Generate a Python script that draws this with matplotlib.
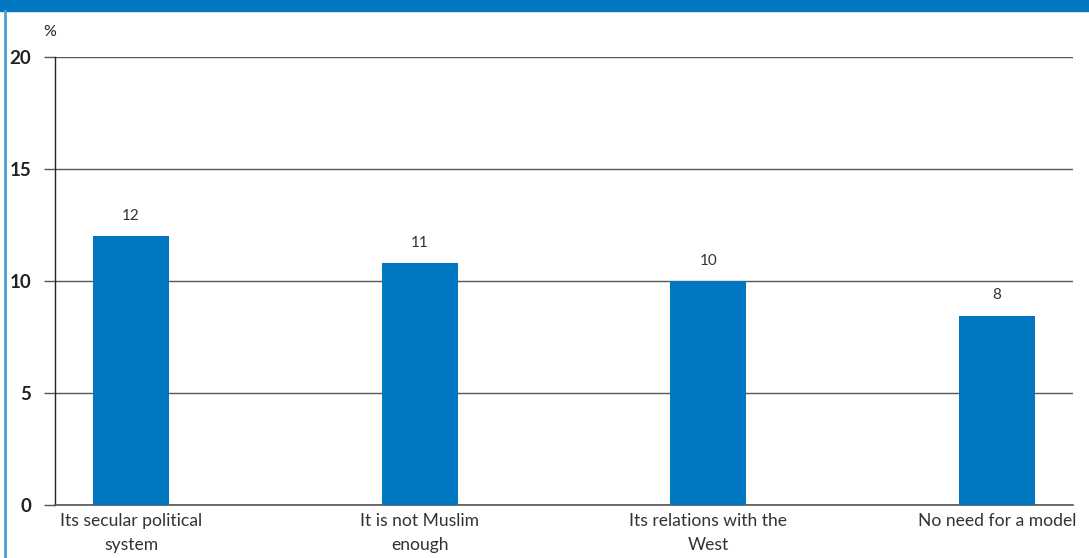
import matplotlib.pyplot as plt
import matplotlib.patches as mpatches
from matplotlib.lines import Line2D

categories = ["Its secular political\nsystem", "It is not Muslim\nenough",
              "Its relations with the\nWest", "No need for a model"]
values = [12.0, 10.8, 10.0, 8.45]
yticks = [0, 5, 10, 15, 20]

blue = "#0077C0"
grid_col = "#555555"
text_col = "#333333"

fig = plt.figure(figsize=(10.89, 5.58), dpi=100)
ax = fig.add_axes([55 / 1089, 53 / 558, 1018 / 1089, 448 / 558])

x = range(len(categories))
bars = ax.bar(x, values, width=0.263, color=blue, zorder=3)
for b, v in zip(bars, values):
    ax.text(b.get_x() + b.get_width() / 2, v + 0.6, f"{v:.0f}",
            ha="center", va="bottom", fontsize=11, color=text_col,
            family="Lato")

ax.set_xlim(-0.263, 3.263)
ax.set_ylim(0, 20)
ax.set_yticks(yticks)
ax.set_yticklabels([str(t) for t in yticks], fontsize=13.5, fontweight="bold",
                   family="Lato", color="#222222")
ax.set_xticks(list(x))
ax.set_xticklabels(categories, fontsize=12.6, family="Lato", color=text_col,
                   linespacing=1.6)
ax.tick_params(axis="x", length=0, pad=6)
ax.tick_params(axis="y", length=8, width=1, color=grid_col, pad=9)

ax.yaxis.grid(True, color=grid_col, linewidth=1)
ax.set_axisbelow(True)
for s in ["top", "right"]:
    ax.spines[s].set_visible(False)
ax.spines["left"].set_color("#222222")
ax.spines["bottom"].set_color(grid_col)
ax.spines["left"].set_linewidth(1)
ax.spines["bottom"].set_linewidth(1.2)

fig.text(50 / 1089, 1 - 32 / 558, "%", fontsize=11.5, family="Lato",
         color="#222222", ha="center", va="center")

# header band and left frame line
fig.patches.append(mpatches.Rectangle((0, 1 - 11 / 558), 1, 11 / 558,
                                      transform=fig.transFigure,
                                      color=blue, zorder=0))
fig.lines.append(Line2D([5 / 1089, 5 / 1089], [0, 1 - 11 / 558],
                        transform=fig.transFigure, color="#4a9fd8",
                        linewidth=2))

fig.savefig("out.png", dpi=100)
